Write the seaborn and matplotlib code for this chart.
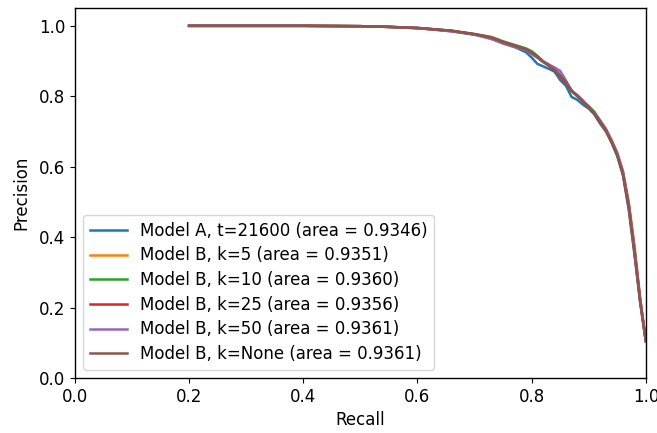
import pandas as pd
import seaborn as sns
import matplotlib
matplotlib.use("Agg")
import matplotlib.pyplot as plt

plt.rcParams["font.size"] = 12
plt.rcParams["axes.linewidth"] = 1.0

# recall grid shared by all curves
recall = [0.20, 0.30, 0.40, 0.50, 0.55, 0.60, 0.63, 0.66, 0.70, 0.73, 0.75, 0.77,
          0.79, 0.80, 0.81, 0.82, 0.83, 0.84, 0.85, 0.86, 0.87, 0.88, 0.89, 0.90,
          0.91, 0.92, 0.93, 0.94, 0.95, 0.96, 0.97, 0.98, 0.99, 1.00]

labels = ["Model A, t=21600 (area = 0.9346)",
          "Model B, k=5 (area = 0.9351)",
          "Model B, k=10 (area = 0.9360)",
          "Model B, k=25 (area = 0.9356)",
          "Model B, k=50 (area = 0.9361)",
          "Model B, k=None (area = 0.9361)"]

prec_a = [1.0, 1.0, 1.0, 0.999, 0.997, 0.993, 0.990, 0.985, 0.975, 0.965, 0.950, 0.940,
          0.925, 0.910, 0.892, 0.885, 0.878, 0.870, 0.846, 0.830, 0.798, 0.790, 0.776, 0.765,
          0.748, 0.722, 0.700, 0.668, 0.630, 0.575, 0.478, 0.352, 0.215, 0.105]
prec_b5 = [1.0, 1.0, 1.0, 0.999, 0.997, 0.993, 0.989, 0.985, 0.976, 0.966, 0.953, 0.942,
           0.932, 0.922, 0.910, 0.898, 0.888, 0.876, 0.858, 0.840, 0.818, 0.800, 0.784, 0.770,
           0.752, 0.728, 0.702, 0.672, 0.636, 0.585, 0.500, 0.378, 0.230, 0.105]
prec_b10 = [1.0, 1.0, 1.0, 0.999, 0.997, 0.994, 0.990, 0.986, 0.977, 0.968, 0.956, 0.946,
            0.936, 0.928, 0.915, 0.900, 0.890, 0.878, 0.860, 0.842, 0.816, 0.800, 0.786, 0.772,
            0.756, 0.730, 0.706, 0.670, 0.632, 0.580, 0.492, 0.365, 0.222, 0.105]
prec_b25 = [1.0, 1.0, 1.0, 0.999, 0.997, 0.994, 0.990, 0.986, 0.976, 0.967, 0.954, 0.944,
            0.933, 0.924, 0.912, 0.898, 0.887, 0.874, 0.856, 0.838, 0.814, 0.802, 0.785, 0.768,
            0.750, 0.726, 0.703, 0.671, 0.634, 0.578, 0.486, 0.358, 0.218, 0.105]
prec_b50 = [1.0, 1.0, 1.0, 0.999, 0.997, 0.994, 0.989, 0.984, 0.975, 0.962, 0.950, 0.940,
            0.932, 0.920, 0.910, 0.898, 0.890, 0.882, 0.872, 0.845, 0.815, 0.804, 0.788, 0.770,
            0.752, 0.732, 0.708, 0.676, 0.640, 0.588, 0.496, 0.370, 0.224, 0.105]
prec_bnone = [1.0, 1.0, 1.0, 0.999, 0.997, 0.994, 0.990, 0.986, 0.976, 0.966, 0.953, 0.943,
              0.933, 0.923, 0.911, 0.898, 0.888, 0.876, 0.858, 0.840, 0.815, 0.801, 0.785, 0.769,
              0.751, 0.728, 0.704, 0.672, 0.634, 0.580, 0.490, 0.362, 0.220, 0.105]

precisions = [prec_a, prec_b5, prec_b10, prec_b25, prec_b50, prec_bnone]

rows = []
for lab, prec in zip(labels, precisions):
    for r, p in zip(recall, prec):
        rows.append({"Recall": r, "Precision": p, "model": lab})
df = pd.DataFrame(rows)

fig, ax = plt.subplots(figsize=(6.57, 4.33), dpi=100)
fig.subplots_adjust(left=0.114, right=0.983, top=0.981, bottom=0.127)

sns.lineplot(data=df, x="Recall", y="Precision", hue="model",
             estimator=None, sort=False, palette="tab10", linewidth=1.8, ax=ax)

ax.set_xlim(0.0, 1.0)
ax.set_ylim(0.0, 1.05)
ax.set_xlabel("Recall")
ax.set_ylabel("Precision", labelpad=6)
ax.legend(loc="lower left", title=None, handlelength=2.2, labelspacing=0.4)

plt.savefig("out.png", dpi=100)
